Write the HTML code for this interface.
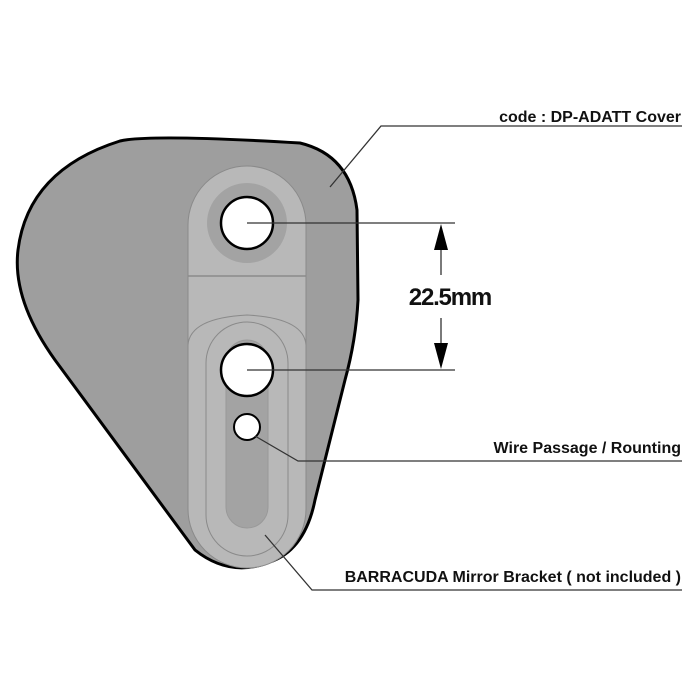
<!DOCTYPE html>
<html><head><style>html,body{margin:0;padding:0;background:#fff}svg{display:block}</style></head>
<body>
<svg width="700" height="700" viewBox="0 0 700 700" xmlns="http://www.w3.org/2000/svg">
<path d="M300 143 Q350 155 357 210 L358 300 Q356 340 345 380 L315 500 Q305 550 270 562 Q230 578 195 550 L55 360 Q12 300 18 250 Q28 170 120 141 Q150 134 300 143 Z" fill="#9e9e9e" stroke="#000" stroke-width="3"/>
<path d="M188 225 A59 59 0 0 1 306 225 L306 509 A59 59 0 0 1 188 509 Z" fill="#b8b8b8" stroke="#8a8a8a" stroke-width="1"/>
<line x1="188" y1="276" x2="306" y2="276" stroke="#8a8a8a" stroke-width="1.5"/>
<path d="M188 345 Q190 318 247 315 Q304 318 306 345" fill="none" stroke="#8a8a8a" stroke-width="1"/>
<rect x="206" y="322" width="82" height="234" rx="41" fill="none" stroke="#8a8a8a" stroke-width="1"/>
<rect x="226" y="340" width="42" height="188" rx="21" fill="#a3a3a3" stroke="#999" stroke-width="1"/>
<circle cx="247" cy="223" r="40" fill="#a3a3a3"/>
<circle cx="247" cy="223" r="26" fill="#fff" stroke="#000" stroke-width="2.5"/>
<circle cx="247" cy="370" r="26" fill="#fff" stroke="#000" stroke-width="2.5"/>
<circle cx="247" cy="427" r="13" fill="#fff" stroke="#000" stroke-width="2"/>
<g stroke="#333" stroke-width="1.3" fill="none">
<polyline points="330,187 381,126 682,126"/>
<line x1="247" y1="223" x2="455" y2="223"/>
<line x1="247" y1="370" x2="455" y2="370"/>
<line x1="441" y1="240" x2="441" y2="275"/>
<line x1="441" y1="318" x2="441" y2="352"/>
<polyline points="255,436 298,461 682,461"/>
<polyline points="265,535 312,590 682,590"/>
</g>
<polygon points="441,224 434,250 448,250" fill="#000"/>
<polygon points="441,369 434,343 448,343" fill="#000"/>
<g font-family="Liberation Sans, sans-serif" font-weight="bold" fill="#111" text-anchor="end">
<text x="681" y="122" font-size="16">code : DP-ADATT Cover</text>
<text x="681" y="453" font-size="16">Wire Passage / Rounting</text>
<text x="681" y="582" font-size="16">BARRACUDA Mirror Bracket ( not  included )</text>
<text x="491" y="305" font-size="24" letter-spacing="-1.2">22.5mm</text>
</g>
</svg>
</body></html>
